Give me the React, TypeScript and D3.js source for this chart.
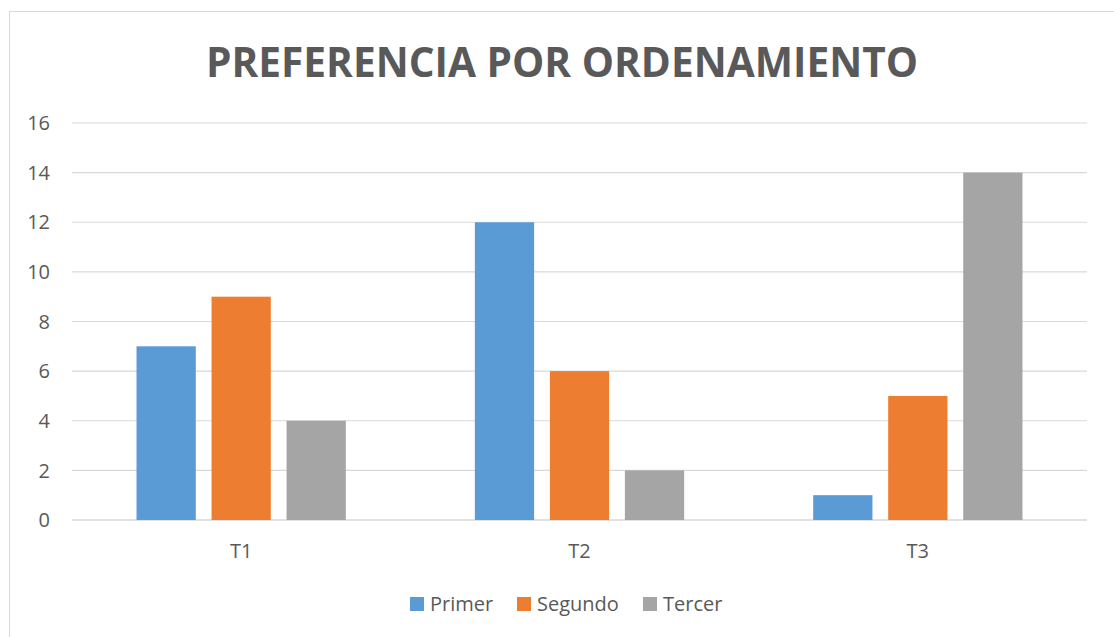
import React from 'react'
import * as d3 from 'd3'

const categories = ['T1', 'T2', 'T3']
const seriesNames = ['Primer', 'Segundo', 'Tercer']
const primer = [7, 12, 1]
const segundo = [9, 6, 5]
const tercer = [4, 2, 14]
const yTicks = [0, 2, 4, 6, 8, 10, 12, 14, 16]
const colors = ['#5B9BD5', '#ED7D31', '#A5A5A5']

const W = 1114
const H = 637
const font = '"Open Sans", "Liberation Sans", sans-serif'
const textColor = '#595959'

export default () => {
  const values = [primer, segundo, tercer]

  const x0 = d3.scaleBand().domain(categories).range([72, 1087]).padding(0)
  const x1 = d3
    .scaleBand()
    .domain(seriesNames)
    .range([0, x0.bandwidth()])
    .paddingInner(0.21)
    .paddingOuter(0.86)
  const y = d3.scaleLinear().domain([0, 16]).range([520, 123])

  // legend layout (x of each square)
  const legendX = [410, 517, 643]

  return (
    <svg width={W} height={H} style={{ position: 'absolute', left: 0, top: 0, background: '#fff' }}>
      <rect x={9.5} y={11.5} width={1130} height={640} fill="#fff" stroke="#D9D9D9" strokeWidth={1} />

      <text
        x={562}
        y={77}
        textAnchor="middle"
        fontFamily={font}
        fontWeight="bold"
        fontSize={42}
        fill={textColor}
        textLength={712}
        lengthAdjust="spacingAndGlyphs"
      >
        PREFERENCIA POR ORDENAMIENTO
      </text>

      {yTicks.map((t) => (
        <g key={t}>
          <line x1={72} x2={1087} y1={y(t)} y2={y(t)} stroke="#D9D9D9" strokeWidth={t === 0 ? 1.5 : 1.2} />
          <text x={50} y={y(t)} dy="0.36em" textAnchor="end" fontFamily={font} fontSize={20} fill={textColor}>
            {t}
          </text>
        </g>
      ))}

      {categories.map((c, ci) => (
        <g key={c} transform={`translate(${x0(c)},0)`}>
          {seriesNames.map((s, si) => (
            <rect
              key={s}
              x={x1(s)}
              y={y(values[si][ci])}
              width={x1.bandwidth()}
              height={y(0) - y(values[si][ci])}
              fill={colors[si]}
            />
          ))}
          <text
            x={x0.bandwidth() / 2}
            y={558}
            textAnchor="middle"
            fontFamily={font}
            fontSize={20}
            fill={textColor}
          >
            {c}
          </text>
        </g>
      ))}

      {seriesNames.map((s, i) => (
        <g key={s}>
          <rect x={legendX[i]} y={597} width={14} height={14} fill={colors[i]} />
          <text x={legendX[i] + 20} y={611} fontFamily={font} fontSize={20} fill={textColor}>
            {s}
          </text>
        </g>
      ))}
    </svg>
  )
}
